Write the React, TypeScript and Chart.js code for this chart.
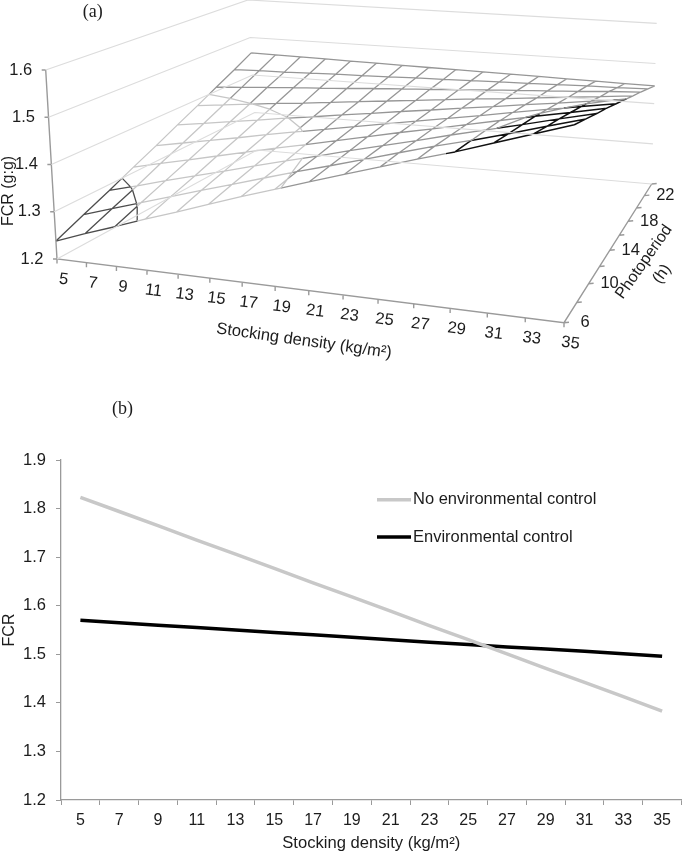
import React, { useEffect, useRef } from "react";
import Chart from "chart.js/auto";

const densities = [5, 7, 9, 11, 13, 15, 17, 19, 21, 23, 25, 27, 29, 31, 33, 35];
const photoperiods = [6, 8, 10, 12, 14, 16, 18, 20, 22, 24];
const photoLabels = [6, 10, 14, 18, 22];
const fcrTicks = [1.2, 1.3, 1.4, 1.5, 1.6];

const fcrP6 = [1.238, 1.261, 1.283, 1.306, 1.328, 1.351, 1.374, 1.396, 1.418, 1.44, 1.462, 1.484, 1.505, 1.529, 1.553, 1.577];
const fcrP8 = [1.263, 1.283, 1.303, 1.323, 1.343, 1.363, 1.383, 1.403, 1.422, 1.442, 1.462, 1.482, 1.5, 1.52, 1.541, 1.562];
const fcrP10 = [1.287, 1.304, 1.322, 1.339, 1.356, 1.374, 1.391, 1.408, 1.426, 1.443, 1.46, 1.478, 1.495, 1.512, 1.53, 1.547];
const fcrP12 = [1.312, 1.327, 1.341, 1.356, 1.371, 1.386, 1.4, 1.415, 1.43, 1.445, 1.459, 1.474, 1.489, 1.504, 1.518, 1.533];
const fcrP14 = [1.336, 1.348, 1.36, 1.372, 1.385, 1.397, 1.409, 1.421, 1.433, 1.445, 1.457, 1.469, 1.482, 1.494, 1.506, 1.518];
const fcrP16 = [1.361, 1.37, 1.38, 1.389, 1.399, 1.408, 1.418, 1.427, 1.437, 1.446, 1.456, 1.465, 1.475, 1.484, 1.494, 1.503];
const fcrP18 = [1.385, 1.392, 1.399, 1.406, 1.412, 1.419, 1.426, 1.433, 1.44, 1.447, 1.454, 1.46, 1.467, 1.474, 1.481, 1.488];
const fcrP20 = [1.41, 1.414, 1.419, 1.423, 1.427, 1.431, 1.436, 1.44, 1.444, 1.448, 1.453, 1.457, 1.461, 1.465, 1.47, 1.474];
const fcrP22 = [1.434, 1.436, 1.437, 1.439, 1.441, 1.442, 1.444, 1.446, 1.447, 1.449, 1.451, 1.452, 1.454, 1.456, 1.457, 1.459];
const fcrP24 = [1.459, 1.458, 1.457, 1.456, 1.455, 1.454, 1.453, 1.452, 1.451, 1.45, 1.449, 1.448, 1.447, 1.446, 1.445, 1.444];
const surface = [fcrP6, fcrP8, fcrP10, fcrP12, fcrP14, fcrP16, fcrP18, fcrP20, fcrP22, fcrP24];

const densityLabelsB = ["5", "7", "9", "11", "13", "15", "17", "19", "21", "23", "25", "27", "29", "31", "33", "35"];
const noControl = [1.823, 1.794, 1.765, 1.735, 1.706, 1.677, 1.647, 1.618, 1.589, 1.559, 1.53, 1.501, 1.471, 1.442, 1.413, 1.383];
const envControl = [1.57, 1.565, 1.56, 1.555, 1.55, 1.545, 1.54, 1.535, 1.53, 1.525, 1.52, 1.515, 1.511, 1.506, 1.501, 1.496];

const SANS = '"Liberation Sans", Arial, sans-serif';
const TEXT = "#1c1c1c";
const AXIS = "#9a9a9a";

type P = { x: number; y: number };

// camera: where the box corners land on screen (front-left, front-right, back-right, back-left)
const floorQuad: number[][] = [[57, 259], [564, 322.7], [651.7, 184], [257, 150]];
const topQuad: number[][] = [[45.7, 70], [575, 112.7], [656.7, 23.3], [248, 0]];

function homography(q: number[][], s: number, t: number): number[] {
  const [[x0, y0], [x1, y1], [x2, y2], [x3, y3]] = q;
  const dx1 = x1 - x2, dx2 = x3 - x2, sx = x0 - x1 + x2 - x3;
  const dy1 = y1 - y2, dy2 = y3 - y2, sy = y0 - y1 + y2 - y3;
  const den = dx1 * dy2 - dx2 * dy1;
  const g = (sx * dy2 - dx2 * sy) / den;
  const h = (dx1 * sy - sx * dy1) / den;
  const w = 1 + g * s + h * t;
  return [
    (x0 + (x1 - x0 + g * x1) * s + (x3 - x0 + h * x3) * t) / w,
    (y0 + (y1 - y0 + g * y1) * s + (y3 - y0 + h * y3) * t) / w,
  ];
}

function project(d: number, p: number, z: number): P {
  const s = (d - 5) / 30;
  const t = (p - 6) / 18;
  const a = homography(floorQuad, s, t);
  const b = homography(topQuad, s, t);
  const k = (z - 1.2) / 0.4;
  return { x: a[0] + (b[0] - a[0]) * k, y: a[1] + (b[1] - a[1]) * k };
}

const GAP: P = { x: NaN, y: NaN };
const thresholds = [1.3, 1.4, 1.5];
const bandOf = (v: number) => (v < 1.3 ? 0 : v < 1.4 ? 1 : v < 1.5 ? 2 : 3);

function buildSurface(): P[][] {
  const bands: P[][] = [[], [], [], []];
  const addSeg = (d0: number, p0: number, f0: number, d1: number, p1: number, f1: number) => {
    const cuts = [0];
    thresholds.forEach((th) => {
      if ((f0 - th) * (f1 - th) < 0) cuts.push((th - f0) / (f1 - f0));
    });
    cuts.push(1);
    cuts.sort((a, b) => a - b);
    for (let i = 0; i < cuts.length - 1; i++) {
      const a = cuts[i], b = cuts[i + 1];
      const m = (a + b) / 2;
      const at = (u: number) => project(d0 + (d1 - d0) * u, p0 + (p1 - p0) * u, f0 + (f1 - f0) * u);
      bands[bandOf(f0 + (f1 - f0) * m)].push(at(a), at(b), GAP);
    }
  };
  surface.forEach((row, j) => {
    row.forEach((f, i) => {
      if (i < row.length - 1) addSeg(densities[i], photoperiods[j], f, densities[i + 1], photoperiods[j], row[i + 1]);
      if (j < surface.length - 1) addSeg(densities[i], photoperiods[j], f, densities[i], photoperiods[j + 1], surface[j + 1][i]);
    });
  });
  // contour boundaries between the colour bands
  for (let j = 0; j < surface.length - 1; j++) {
    for (let i = 0; i < densities.length - 1; i++) {
      const c = [
        [densities[i], photoperiods[j], surface[j][i]],
        [densities[i + 1], photoperiods[j], surface[j][i + 1]],
        [densities[i + 1], photoperiods[j + 1], surface[j + 1][i + 1]],
        [densities[i], photoperiods[j + 1], surface[j + 1][i]],
      ];
      thresholds.forEach((th, n) => {
        const hits: P[] = [];
        c.forEach((a, k) => {
          const b = c[(k + 1) % 4];
          if ((a[2] - th) * (b[2] - th) < 0) {
            const u = (th - a[2]) / (b[2] - a[2]);
            hits.push(project(a[0] + (b[0] - a[0]) * u, a[1] + (b[1] - a[1]) * u, th));
          }
        });
        if (hits.length === 2) bands[n].push(hits[0], hits[1], GAP);
      });
    }
  }
  return bands;
}

function line(label: string, data: P[], color: string, width: number) {
  return {
    label,
    data,
    showLine: true,
    spanGaps: false,
    borderColor: color,
    borderWidth: width,
    pointRadius: 0,
    pointHoverRadius: 0,
    fill: false,
    tension: 0,
  };
}

function buildTopDatasets() {
  const dMin = densities[0], dMax = densities[densities.length - 1];
  const pMin = photoperiods[0], pMax = photoperiods[photoperiods.length - 1];
  const walls: P[] = [];
  fcrTicks.forEach((z) => {
    walls.push(project(dMin, pMin, z), project(dMin, pMax, z), project(dMax, pMax, z), GAP);
  });
  const axes: P[] = [
    project(dMin, pMin, 1.6), project(dMin, pMin, 1.2), project(dMax, pMin, 1.2), project(dMax, pMax, 1.2), GAP,
  ];
  densities.forEach((d) => {
    const a = project(d, pMin, 1.2);
    axes.push(a, { x: a.x, y: a.y + 4.5 }, GAP);
  });
  photoperiods.forEach((p) => {
    const a = project(dMax, p, 1.2);
    axes.push(a, { x: a.x + 5, y: a.y - 0.5 }, GAP);
  });
  fcrTicks.forEach((z) => {
    const a = project(dMin, pMin, z);
    axes.push(a, { x: a.x - 4, y: a.y }, GAP);
  });
  const bands = buildSurface();
  return [
    line("walls", walls, "#dcdcdc", 1.2),
    line("axes", axes, AXIS, 1.4),
    line("band 1.3-1.4", bands[1], "#c6c6c6", 1.3),
    line("band 1.4-1.5", bands[2], "#969696", 1.3),
    line("band <1.3", bands[0], "#4d4d4d", 1.3),
    line("band >1.5", bands[3], "#111111", 1.5),
  ];
}

const topLabels = {
  id: "topLabels",
  afterDraw(chart: any) {
    const { ctx, scales } = chart;
    const X = (v: number) => scales.x.getPixelForValue(v);
    const Y = (v: number) => scales.y.getPixelForValue(v);
    const put = (txt: string, x: number, y: number, font: string, rot = 0, align: CanvasTextAlign = "center") => {
      ctx.save();
      ctx.translate(x, y);
      ctx.rotate((rot * Math.PI) / 180);
      ctx.font = font;
      ctx.fillStyle = TEXT;
      ctx.textAlign = align;
      ctx.textBaseline = "middle";
      ctx.fillText(txt, 0, 0);
      ctx.restore();
    };
    const tickFont = `16.5px ${SANS}`;
    fcrTicks.forEach((z) => {
      const a = project(5, 6, z);
      put(z.toFixed(1), X(a.x) - 13.5, Y(a.y), tickFont, 0, "right");
    });
    densities.forEach((d) => {
      const a = project(d, 6, 1.2);
      put(String(d), X(a.x) + 6.5, Y(a.y) + 20.5, tickFont, 7.2);
    });
    photoLabels.forEach((p) => {
      const a = project(35, p, 1.2);
      put(String(p), X(a.x) + 21, Y(a.y), tickFont);
    });
    put("Stocking density (kg/m²)", X(304), Y(341), `16.5px ${SANS}`, 8);
    put("FCR (g:g)", X(8.5), Y(191), `16px ${SANS}`, -90);
    put("Photoperiod", X(644), Y(262), `16px ${SANS}`, -55);
    put("(h)", X(662), Y(274), `16px ${SANS}`, -55);
    put("(a)", X(92.7), Y(12.7), `18px "Liberation Serif", serif`);
  },
};

const bottomLabels = {
  id: "bottomLabels",
  afterDraw(chart: any) {
    const { ctx } = chart;
    const items: [string, string, number][] = [
      ["No environmental control", "#c8c8c8", 99.7],
      ["Environmental control", "#000000", 137],
    ];
    ctx.save();
    items.forEach(([label, color, y]) => {
      ctx.strokeStyle = color;
      ctx.lineWidth = 3.5;
      ctx.beginPath();
      ctx.moveTo(377, y);
      ctx.lineTo(411, y);
      ctx.stroke();
      ctx.font = `16.5px ${SANS}`;
      ctx.fillStyle = TEXT;
      ctx.textAlign = "left";
      ctx.textBaseline = "middle";
      ctx.fillText(label, 413, y);
    });
    ctx.font = `18px "Liberation Serif", serif`;
    ctx.textAlign = "center";
    ctx.fillText("(b)", 122.5, 9);
    ctx.restore();
  },
};

export default function App() {
  const topRef = useRef<HTMLCanvasElement>(null);
  const botRef = useRef<HTMLCanvasElement>(null);

  useEffect(() => {
    const top = new Chart(topRef.current!, {
      type: "scatter",
      data: { datasets: buildTopDatasets() as any },
      options: {
        animation: false,
        responsive: false,
        layout: { padding: 0 },
        plugins: { legend: { display: false }, tooltip: { enabled: false } },
        scales: {
          x: { type: "linear", min: 0, max: 683, display: false },
          y: { type: "linear", min: 0, max: 400, reverse: true, display: false },
        },
      },
      plugins: [topLabels],
    });
    const bottom = new Chart(botRef.current!, {
      type: "line",
      data: {
        labels: densityLabelsB,
        datasets: [
          { label: "No environmental control", data: noControl, borderColor: "#c8c8c8", borderWidth: 3.5, pointRadius: 0, tension: 0 },
          { label: "Environmental control", data: envControl, borderColor: "#000000", borderWidth: 3.5, pointRadius: 0, tension: 0 },
        ],
      },
      options: {
        animation: false,
        responsive: false,
        layout: { padding: { top: 60, right: 1.5, left: 0, bottom: 0 } },
        plugins: { legend: { display: false }, tooltip: { enabled: false } },
        scales: {
          x: {
            type: "category",
            offset: true,
            afterFit: (s: any) => { s.height = 53; s.paddingLeft = 0; s.paddingRight = 0; },
            grid: { offset: true, drawOnChartArea: false, drawTicks: true, tickLength: 5, color: AXIS },
            border: { color: AXIS, width: 1.3 },
            ticks: { color: TEXT, font: { family: SANS, size: 16 }, padding: 6, maxRotation: 0, autoSkip: false },
            title: { display: true, text: "Stocking density (kg/m²)", color: TEXT, font: { family: SANS, size: 16.6 }, padding: 0 },
          },
          y: {
            min: 1.2,
            max: 1.9,
            afterFit: (s: any) => { s.width = 61; s.paddingTop = 0; s.paddingBottom = 0; },
            grid: { drawOnChartArea: false, drawTicks: true, tickLength: 5, color: AXIS },
            border: { color: AXIS, width: 1.3 },
            ticks: { stepSize: 0.1, color: TEXT, font: { family: SANS, size: 16.5 }, padding: 10, callback: (v: any) => Number(v).toFixed(1) },
            title: { display: true, text: "FCR", color: TEXT, font: { family: SANS, size: 16 }, padding: 0 },
          },
        },
      },
      plugins: [bottomLabels],
    });
    return () => {
      top.destroy();
      bottom.destroy();
    };
  }, []);

  return (
    <div style={{ position: "absolute", left: 0, top: 0, width: 683, height: 853, background: "#fff", overflow: "hidden" }}>
      <canvas ref={topRef} width={683} height={400} style={{ position: "absolute", left: 0, top: 0 }} />
      <canvas ref={botRef} width={683} height={453} style={{ position: "absolute", left: 0, top: 400 }} />
    </div>
  );
}
